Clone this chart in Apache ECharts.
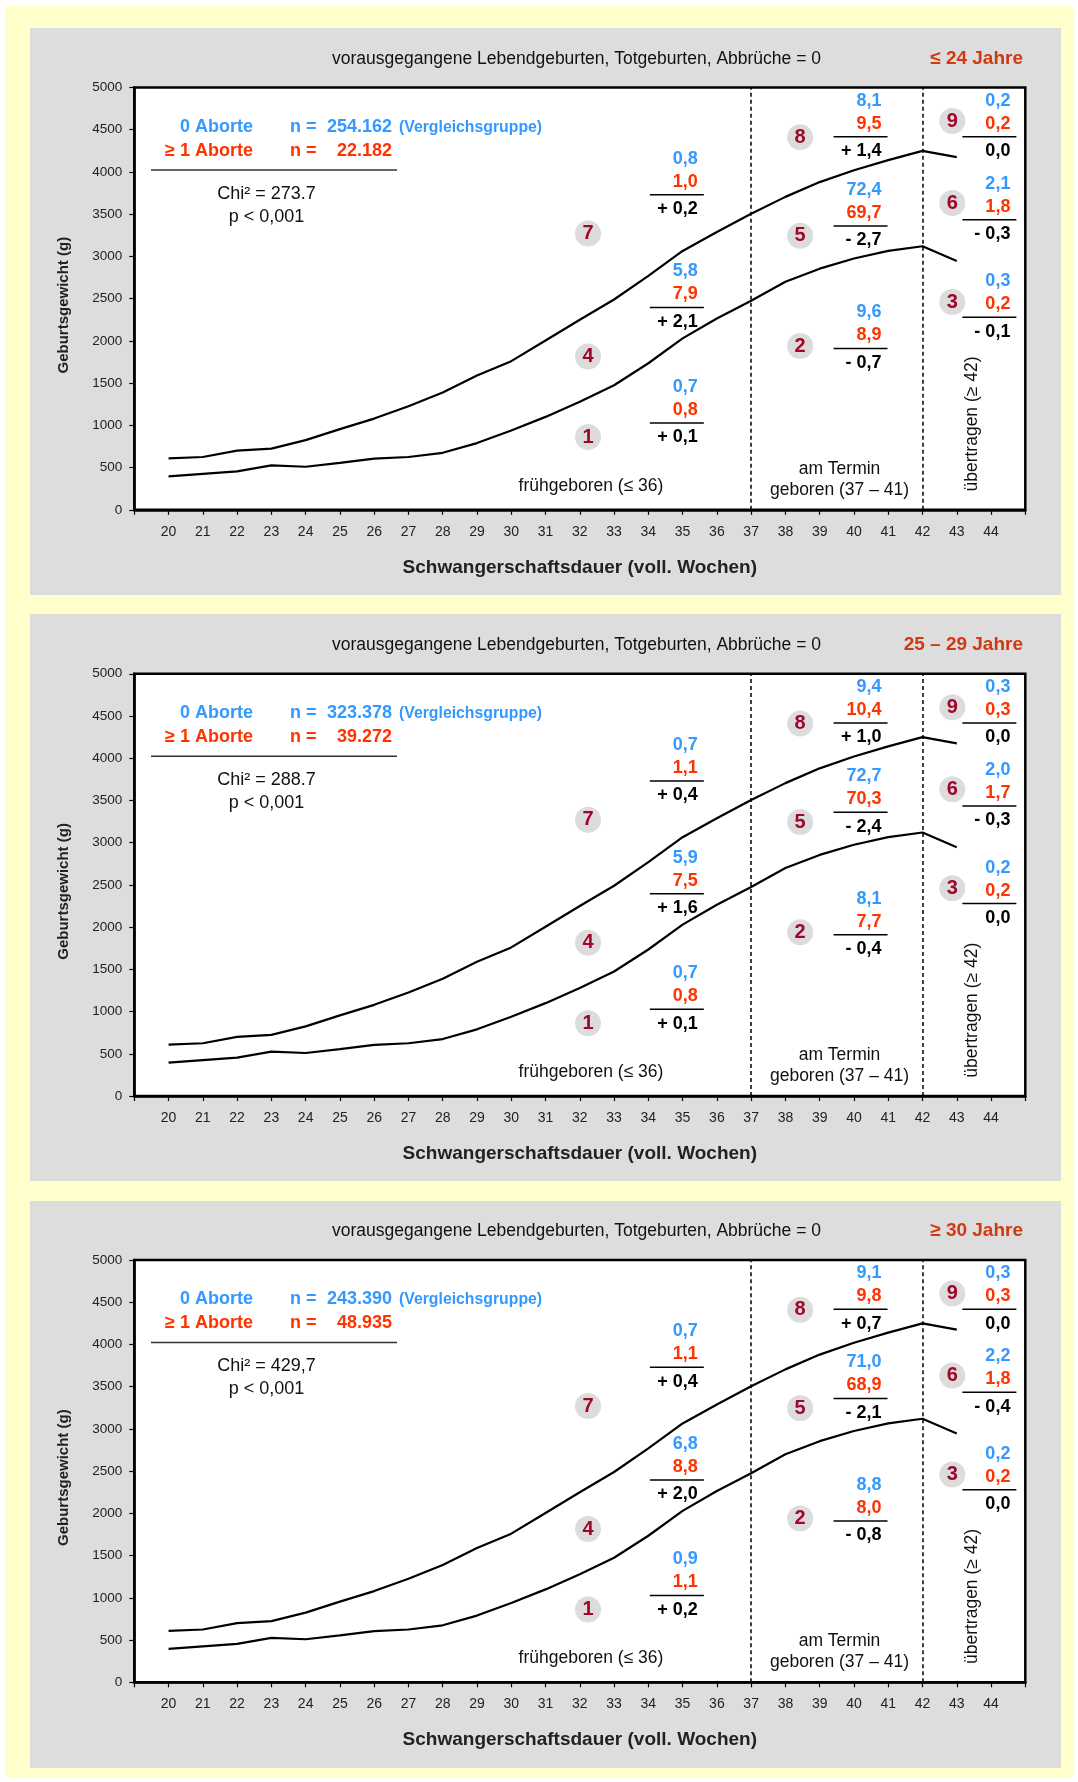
<!DOCTYPE html>
<html><head><meta charset="utf-8">
<script src="https://cdn.jsdelivr.net/npm/echarts@6/dist/echarts.min.js"></script>
<style>
html,body{margin:0;padding:0;background:#fff;}
#bg{position:absolute;left:5px;top:6px;width:1068px;height:1771px;background:#FFFFCC;}
.panel{position:absolute;left:30px;width:1031px;height:567px;background:#DDDDDD;}
#chart{position:absolute;left:0;top:0;width:1078px;height:1782px;}
</style></head><body>
<div id="bg"></div>
<div class="panel" style="top:28px"></div>
<div class="panel" style="top:614px"></div>
<div class="panel" style="top:1201px"></div>
<div id="chart"></div>
<script>
// ---------- DATA ----------
const weeks = [20,21,22,23,24,25,26,27,28,29,30,31,32,33,34,35,36,37,38,39,40,41,42,43];
const upperCurve = [610,625,700,725,825,955,1080,1225,1390,1590,1760,2005,2250,2490,2770,3065,3290,3505,3705,3880,4020,4140,4250,4175];
const lowerCurve = [395,425,455,525,510,555,605,625,675,790,940,1100,1280,1475,1735,2030,2265,2475,2700,2855,2975,3065,3120,2945];
const xTickLabels = [20,21,22,23,24,25,26,27,28,29,30,31,32,33,34,35,36,37,38,39,40,41,42,43,44];
const yTickStep = 500;
const ageLabels = ['≤ 24 Jahre','25 – 29 Jahre','≥ 30 Jahre'];
const nNoAbortion = ['254.162','323.378','243.390'];
const nAbortion = ['22.182','39.272','48.935'];
const chiSquare = ['273.7','288.7','429,7'];
const pValues = ['p < 0,001','p < 0,001','p < 0,001'];
const groupNumbers = [7,4,1,8,5,2,9,6,3];
const pctNoAbortion = [
  ['0,8','5,8','0,7','8,1','72,4','9,6','0,2','2,1','0,3'],
  ['0,7','5,9','0,7','9,4','72,7','8,1','0,3','2,0','0,2'],
  ['0,7','6,8','0,9','9,1','71,0','8,8','0,3','2,2','0,2']];
const pctAbortion = [
  ['1,0','7,9','0,8','9,5','69,7','8,9','0,2','1,8','0,2'],
  ['1,1','7,5','0,8','10,4','70,3','7,7','0,3','1,7','0,2'],
  ['1,1','8,8','1,1','9,8','68,9','8,0','0,3','1,8','0,2']];
const pctDiff = [
  ['+ 0,2','+ 2,1','+ 0,1','+ 1,4','- 2,7','- 0,7','0,0','- 0,3','- 0,1'],
  ['+ 0,4','+ 1,6','+ 0,1','+ 1,0','- 2,4','- 0,4','0,0','- 0,3','0,0'],
  ['+ 0,4','+ 2,0','+ 0,2','+ 0,7','- 2,1','- 0,8','0,0','- 0,4','0,0']];

// ---------- LAYOUT (annotation anchors, axis units) ----------
const fracAnchor = [[35.62,3731],[35.62,2395],[35.62,1028],[40.98,4417],[40.98,3360],[40.98,1910],[44.74,4417],[44.74,3435],[44.74,2279]];
const circleAnchor = [[32.24,3271],[32.24,1815],[32.24,862],[38.43,4410],[38.43,3244],[38.43,1939],[42.87,4603],[42.87,3632],[42.87,2460]];

const FF = "'Liberation Sans', Arial, Helvetica, sans-serif";
const BLUE = '#3399FF', RED = '#FF3300', AGE = '#D03A10', DARK = '#111';
const PANEL_DY = 586.25;

const chart = echarts.init(document.getElementById('chart'), null, {renderer:'canvas'});
const grids=[], xAxes=[], yAxes=[], series=[], graphic=[];

function T(x,y,text,o){
  return {type:'text', x:x, y:y, z:100, rotation:o.rot||0, silent:true,
    style:{text:text, x:0, y:0, fill:o.color||DARK,
      font:(o.bold?'bold ':'')+o.size+'px '+FF,
      align:o.align||'left', verticalAlign:'middle',
      textAlign:o.align||'left', textVerticalAlign:'middle'}};
}

for (let k=0;k<3;k++){
  const dy = k*PANEL_DY;
  grids.push({left:134.3, top:87.5+dy, width:891, height:422.3, show:true,
    backgroundColor:'#fff', borderColor:'#000', borderWidth:2.5, containLabel:false, outerBoundsMode:'none'});
  xAxes.push({gridIndex:k, type:'value', min:19, max:45, interval:1,
    axisLine:{show:true, onZero:false, lineStyle:{color:'#000', width:2.5}},
    axisTick:{show:true, length:5, lineStyle:{color:'#000', width:1.2}},
    axisLabel:{margin:15, fontSize:14, color:'#222', fontFamily:FF,
      formatter:v => xTickLabels.indexOf(v) >= 0 ? String(v) : ''},
    splitLine:{show:false},
    name:'Schwangerschaftsdauer (voll. Wochen)', nameLocation:'middle', nameGap:48,
    nameTextStyle:{fontWeight:'bold', fontSize:19, color:'#222', fontFamily:FF}});
  yAxes.push({gridIndex:k, type:'value', min:0, max:5000, interval:yTickStep,
    axisLine:{show:true, lineStyle:{color:'#000', width:2.5}},
    axisTick:{show:true, length:5, lineStyle:{color:'#000', width:1.2}},
    axisLabel:{margin:12, fontSize:13.5, color:'#222', fontFamily:FF, formatter:v => String(v)},
    splitLine:{show:false},
    name:'Geburtsgewicht (g)', nameLocation:'middle', nameGap:63,
    nameTextStyle:{fontWeight:'bold', fontSize:15, color:'#222', fontFamily:FF, padding:[0,13,0,0]}});

  series.push({type:'line', xAxisIndex:k, yAxisIndex:k, symbol:'none', silent:true,
    data:weeks.map((w,i)=>[w, upperCurve[i]]), lineStyle:{color:'#000', width:2.2},
    markLine:{silent:true, symbol:['none','none'], label:{show:false},
      lineStyle:{type:[4,3], color:'#000', width:1.5},
      data:[{xAxis:37},{xAxis:42}]}});
  series.push({type:'line', xAxisIndex:k, yAxisIndex:k, symbol:'none', silent:true,
    data:weeks.map((w,i)=>[w, lowerCurve[i]]), lineStyle:{color:'#000', width:2.2}});
  series.push({type:'scatter', xAxisIndex:k, yAxisIndex:k, silent:true, symbol:'circle', symbolSize:26,
    itemStyle:{color:'#DCDCDC', opacity:1}, z:5,
    label:{show:true, position:'inside', formatter:p => String(groupNumbers[p.dataIndex]),
      fontWeight:'bold', fontSize:20, color:'#A0062A', fontFamily:FF, opacity:1},
    data:circleAnchor.map(a=>[a[0],a[1]])});
  series.push({type:'custom', xAxisIndex:k, yAxisIndex:k, silent:true, clip:false, z:6,
    data:fracAnchor.map((a,i)=>[a[0],a[1],i]),
    renderItem:(params, api) => {
      const i = api.value(2);
      const p = api.coord([api.value(0), api.value(1)]);
      const xr = p[0], y = p[1];
      const mk = (yy, text, color) => ({type:'text', x:xr-6, y:yy,
        style:{text:text, fill:color, font:'bold 18px '+FF, align:'right', verticalAlign:'middle',
               textAlign:'right', textVerticalAlign:'middle'}});
      return {type:'group', children:[
        {type:'line', shape:{x1:xr-54, y1:y, x2:xr, y2:y}, style:{stroke:'#000', lineWidth:1.5}},
        mk(y-36, pctNoAbortion[k][i], BLUE),
        mk(y-13, pctAbortion[k][i], RED),
        mk(y+14.5, pctDiff[k][i], '#000')
      ]};
    }});

  graphic.push(T(576.5, 59+dy, 'vorausgegangene Lebendgeburten, Totgeburten, Abbrüche = 0', {size:17.5, align:'center'}));
  graphic.push(T(1023, 58.5+dy, ageLabels[k], {size:19, bold:true, color:AGE, align:'right'}));
  graphic.push(T(253, 127+dy, '0 Aborte', {size:18, bold:true, color:BLUE, align:'right'}));
  graphic.push(T(253, 151+dy, '≥ 1 Aborte', {size:18, bold:true, color:RED, align:'right'}));
  graphic.push(T(290, 127+dy, 'n =', {size:18, bold:true, color:BLUE}));
  graphic.push(T(392, 127+dy, nNoAbortion[k], {size:18, bold:true, color:BLUE, align:'right'}));
  graphic.push(T(290, 151+dy, 'n =', {size:18, bold:true, color:RED}));
  graphic.push(T(392, 151+dy, nAbortion[k], {size:18, bold:true, color:RED, align:'right'}));
  graphic.push(T(399, 127.5+dy, '(Vergleichsgruppe)', {size:15.8, bold:true, color:BLUE}));
  graphic.push({type:'line', z:100, silent:true, shape:{x1:151, y1:170+dy, x2:397, y2:170+dy}, style:{stroke:'#333', lineWidth:1.5}});
  graphic.push(T(266.5, 194+dy, 'Chi² = '+chiSquare[k], {size:18, align:'center'}));
  graphic.push(T(266.5, 217+dy, pValues[k], {size:18, align:'center'}));
  graphic.push(T(591, 486+dy, 'frühgeboren (≤ 36)', {size:17.5, align:'center'}));
  graphic.push(T(839.5, 469+dy, 'am Termin', {size:17.5, align:'center'}));
  graphic.push(T(839.5, 490+dy, 'geboren (37 – 41)', {size:17.5, align:'center'}));
  graphic.push(T(972.5, 424+dy, 'übertragen (≥ 42)', {size:17.5, align:'center', rot:Math.PI/2}));
}

chart.setOption({animation:false, grid:grids, xAxis:xAxes, yAxis:yAxes, series:series, graphic:{elements:graphic}});
</script>
</body></html>
